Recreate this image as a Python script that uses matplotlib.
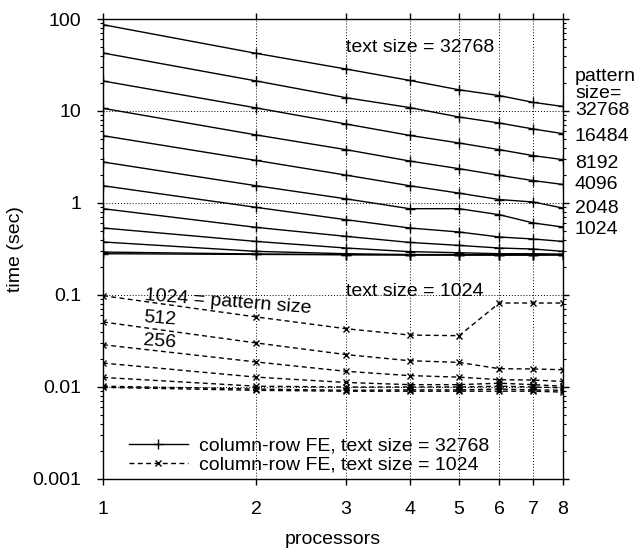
import matplotlib
matplotlib.use("Agg")
import matplotlib.pyplot as plt
from matplotlib.ticker import FixedLocator, NullLocator, LogLocator, FixedFormatter

plt.rcParams['font.family'] = ['Liberation Sans', 'DejaVu Sans']
plt.rcParams['font.size'] = 14

# processors on the x axis
procs = [1, 2, 3, 4, 5, 6, 7, 8]

# text size = 32768, one curve per pattern size
t32768_p32768 = [86.7, 42.3, 28.6, 21.5, 17.0, 14.7, 12.4, 11.2]
t32768_p16384 = [42.7, 21.2, 13.95, 10.9, 8.6, 7.4, 6.37, 5.67]
t32768_p8192 = [21.2, 10.8, 7.22, 5.43, 4.49, 3.80, 3.27, 2.96]
t32768_p4096 = [10.7, 5.49, 3.80, 2.86, 2.36, 2.0, 1.75, 1.59]
t32768_p2048 = [5.39, 2.90, 2.01, 1.54, 1.28, 1.09, 1.025, 0.88]
t32768_p1024 = [2.79, 1.54, 1.11, 0.867, 0.867, 0.746, 0.606, 0.548]
t32768_p512 = [1.54, 0.896, 0.658, 0.535, 0.484, 0.427, 0.406, 0.382]
t32768_p256 = [0.867, 0.543, 0.434, 0.373, 0.346, 0.324, 0.316, 0.298]
t32768_p128 = [0.535, 0.382, 0.324, 0.296, 0.288, 0.281, 0.281, 0.278]
t32768_p64 = [0.377, 0.298, 0.281, 0.275, 0.275, 0.274, 0.274, 0.275]
t32768_p32 = [0.293, 0.279, 0.275, 0.273, 0.273, 0.273, 0.273, 0.274]
t32768_p16 = [0.281, 0.276, 0.274, 0.273, 0.272, 0.272, 0.272, 0.273]

# text size = 1024
t1024_p1024 = [0.0983, 0.0577, 0.0430, 0.0367, 0.0361, 0.0818, 0.0818, 0.0818]
t1024_p512 = [0.0509, 0.0301, 0.0225, 0.0193, 0.0185, 0.0158, 0.0157, 0.0154]
t1024_p256 = [0.0288, 0.0187, 0.0148, 0.0133, 0.0128, 0.0120, 0.0119, 0.0115]
t1024_p128 = [0.0182, 0.0128, 0.0112, 0.0106, 0.0106, 0.0110, 0.0106, 0.0102]
t1024_p64 = [0.0127, 0.0102, 0.0100, 0.0100, 0.0100, 0.0102, 0.0100, 0.0098]
t1024_p32 = [0.0102, 0.0095, 0.0092, 0.0093, 0.0093, 0.0095, 0.0093, 0.0092]
t1024_p16 = [0.0099, 0.0092, 0.0090, 0.0090, 0.0090, 0.0090, 0.0090, 0.0088]

big_text = [t32768_p32768, t32768_p16384, t32768_p8192, t32768_p4096,
            t32768_p2048, t32768_p1024, t32768_p512, t32768_p256,
            t32768_p128, t32768_p64, t32768_p32, t32768_p16]
small_text = [t1024_p1024, t1024_p512, t1024_p256, t1024_p128,
              t1024_p64, t1024_p32, t1024_p16]

right_labels = ["32768", "16484", "8192", "4096", "2048", "1024"]
y_ticks = [0.001, 0.01, 0.1, 1, 10, 100]
y_tick_labels = ["0.001", "0.01", "0.1", "1", "10", "100"]

fig = plt.figure(figsize=(6.41, 5.54), dpi=100)
ax = fig.add_axes([0.1607, 0.1354, 0.7176, 0.8303])
ax.set_xscale('log')
ax.set_yscale('log')
ax.set_xlim(1, 8)
ax.set_ylim(0.001, 100)

dash = (0, (3.5, 2.5))
for i, ys in enumerate(big_text):
    ax.plot(procs, ys, color='black', lw=1, marker='+', ms=7, mew=1,
            label='column-row FE, text size = 32768' if i == 0 else None)
for i, ys in enumerate(small_text):
    ax.plot(procs, ys, color='black', lw=1, ls=dash, marker='x', ms=5, mew=1,
            label='column-row FE, text size = 1024' if i == 0 else None)

# axes, ticks, grid
ax.xaxis.set_major_locator(FixedLocator(procs))
ax.xaxis.set_major_formatter(FixedFormatter([str(p) for p in procs]))
ax.xaxis.set_minor_locator(NullLocator())
ax.yaxis.set_major_locator(FixedLocator(y_ticks))
ax.yaxis.set_major_formatter(FixedFormatter(y_tick_labels))
ax.yaxis.set_minor_locator(LogLocator(base=10, subs=range(2, 10)))
ax.tick_params(which='both', direction='out', top=True, right=True, pad=11)
ax.tick_params(which='major', length=4.5, width=1)
ax.tick_params(which='minor', length=2.2, width=0.8)
ax.grid(True, which='major', color='black', ls=(0, (1, 2)), lw=0.7)
for s in ax.spines.values():
    s.set_linewidth(1)

ax.set_xlabel('processors', labelpad=10)
ax.set_ylabel('time (sec)', labelpad=6)

# annotations
ax.text(3.0, 48.4, 'text size = 32768', ha='left', va='center')
ax.text(3.0, 0.1098, 'text size = 1024', ha='left', va='center')
ax.text(1.209, 0.0982, '1024 = pattern size', ha='left', va='center',
        rotation=-4.5, rotation_mode='anchor')
ax.text(1.20, 0.0572, '512', ha='left', va='center', rotation=-4.5,
        rotation_mode='anchor')
ax.text(1.20, 0.0322, '256', ha='left', va='center', rotation=-4.5,
        rotation_mode='anchor')

tr = ax.get_yaxis_transform()
head_y = [23.6, 15.4]
ax.text(1.026, head_y[0], 'pattern', transform=tr, ha='left', va='center', clip_on=False)
ax.text(1.026, head_y[1], 'size=', transform=tr, ha='left', va='center', clip_on=False)
label_y = [10.07, 5.30, 2.67, 1.58, 0.882, 0.513]
for lab, yv in zip(right_labels, label_y):
    ax.text(1.026, yv, lab, transform=tr, ha='left', va='center', clip_on=False)

ax.legend(loc='lower left', bbox_to_anchor=(0.057, 0.012), frameon=False,
          handlelength=3.0, handletextpad=0.6, labelspacing=0.05,
          borderpad=0, borderaxespad=0, numpoints=1)

fig.savefig('out.png', dpi=100)
